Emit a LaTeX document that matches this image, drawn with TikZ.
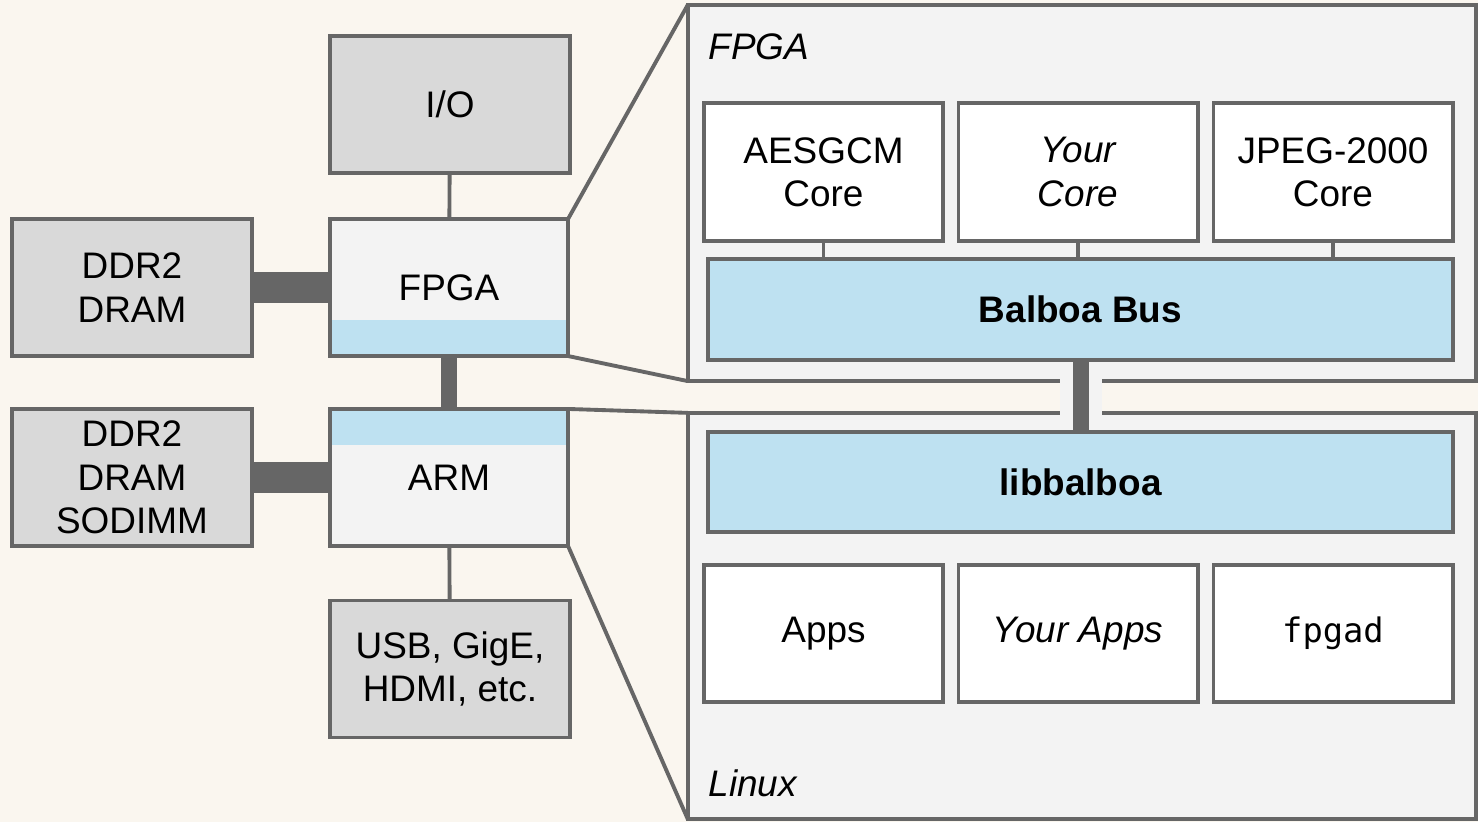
\documentclass[tikz,border=0pt]{standalone}
\usepackage{fontspec}
\setmainfont{Liberation Sans}
\newfontfamily\codefont{DejaVu Sans Mono}
\usepackage{tikz}

\definecolor{bgcream}{HTML}{FAF6EF}
\definecolor{boxgray}{HTML}{D9D9D9}
\definecolor{chipgray}{HTML}{F3F3F3}
\definecolor{busblue}{HTML}{BEE1F1}
\definecolor{edge}{HTML}{666666}

\tikzset{
  blk/.style={draw=edge, line width=1.1pt, inner sep=0pt, outer sep=0pt, align=center,
    font=\fontsize{10.5}{12.3}\selectfont},
  mem/.style={blk, fill=boxgray, minimum width=2.4cm, minimum height=1.37cm},
  chip/.style={blk, fill=chipgray, minimum width=2.38cm, minimum height=1.37cm},
  core/.style={blk, fill=white, minimum width=2.39cm, minimum height=1.38cm},
  bus/.style={blk, fill=busblue, minimum width=7.45cm, minimum height=1.01cm,
    font=\fontsize{10.5}{12.3}\selectfont\bfseries},
  panel/.style={blk, fill=chipgray, minimum width=7.88cm},
  tag/.style={anchor=west, inner sep=0pt, font=\fontsize{10.5}{12.3}\selectfont\itshape},
  link/.style={draw=edge, line width=1.1pt},
}

\begin{document}
\begin{tikzpicture}[x=0.01cm,y=-0.01cm]
\fill[bgcream] (0,0) rectangle (1478,822);
\useasboundingbox (0,0) rectangle (1478,822);

% zoomed panels
\node[panel, minimum height=3.76cm] (fpgapanel) at (1082,193) {};
\node[panel, minimum height=4.06cm] (linuxpanel) at (1082,616) {};
\fill[chipgray] (1060,375) rectangle (1102,419);
\node[tag] (fpgalabel) at (708,47) {FPGA};
\node[tag] (linuxlabel) at (708,783) {Linux};

% board
\node[mem] (io) at (450,104.5) {I/O};
\node[mem] (dram) at (132,287.5) {DDR2\\DRAM};
\node[chip, path picture={\fill[busblue] (path picture bounding box.south west) rectangle ([yshift=0.36cm]path picture bounding box.south east);}] (fpga) at (449,287.5) {FPGA};
\node[mem] (sodimm) at (132,477.5) {DDR2\\DRAM\\SODIMM};
\node[chip, path picture={\fill[busblue] (path picture bounding box.north west) rectangle ([yshift=-0.36cm]path picture bounding box.north east);}] (arm) at (449,477.5) {ARM};
\node[mem] (usb) at (450,669) {USB, GigE,\\HDMI, etc.};

\draw[link] (io) -- (fpga);
\draw[link] (arm) -- (usb);
\draw[edge, line width=0.3cm] (dram) -- (fpga);
\draw[edge, line width=0.3cm] (sodimm) -- (arm);
\draw[edge, line width=0.15cm] (fpga) -- (arm);

\draw[link] (fpga.north east) -- (fpgapanel.north west);
\draw[link] (fpga.south east) -- (fpgapanel.south west);
\draw[link] (arm.north east) -- (linuxpanel.north west);
\draw[link] (arm.south east) -- (linuxpanel.south west);

% FPGA side
\node[core] (aes) at (823.5,172) {AESGCM\\Core};
\node[core] (yourcore) at (1078,172) {\itshape Your\\\itshape Core};
\node[core] (jpeg) at (1333,172) {JPEG-2000\\Core};
\node[bus] (bus) at (1080.5,309.5) {Balboa Bus};
\foreach \c in {aes,yourcore,jpeg}
  \draw[link] (\c) -- (\c |- bus.north);

% Linux side
\node[bus, minimum height=1.0cm] (lib) at (1080.5,482) {libbalboa};
\node[core, minimum height=1.37cm] (apps) at (823.5,633.5) {Apps};
\node[core, minimum height=1.37cm] (yourapps) at (1078,633.5) {\itshape Your Apps};
\node[core, minimum height=1.37cm, font=\fontsize{9.6}{12}\codefont] (fpgad) at (1333,633.5) {fpgad};

\draw[edge, line width=0.16cm] (bus) -- (lib);
\end{tikzpicture}
\end{document}
